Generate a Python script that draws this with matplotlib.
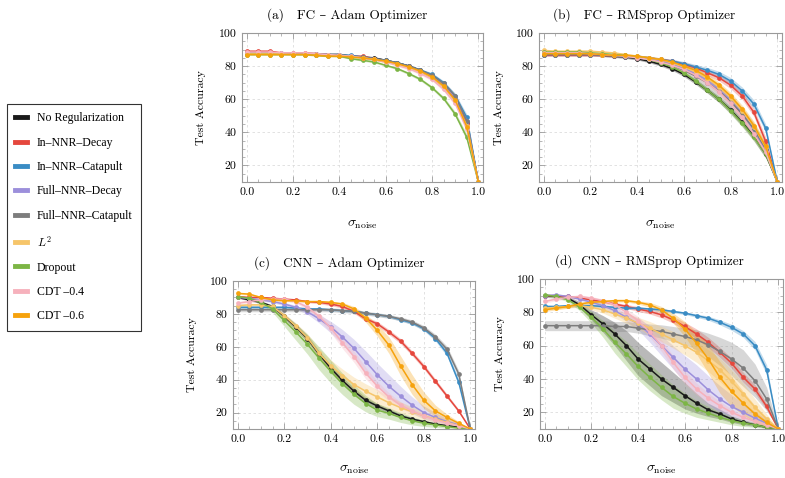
import matplotlib
matplotlib.use('Agg')
import matplotlib.pyplot as plt
from matplotlib.ticker import MultipleLocator
from matplotlib.lines import Line2D
import numpy as np

plt.rcParams['font.family'] = ['cmr10', 'DejaVu Serif']
plt.rcParams['mathtext.fontset'] = 'cm'
plt.rcParams['axes.formatter.use_mathtext'] = True
plt.rcParams['axes.unicode_minus'] = False

# ---------------- data ----------------
x = [0.0, 0.05, 0.1, 0.15, 0.2, 0.25, 0.3, 0.35, 0.4, 0.45, 0.5,
     0.55, 0.6, 0.65, 0.7, 0.75, 0.8, 0.85, 0.9, 0.95, 1.0]

labels = ["No Regularization", "In–NNR–Decay", "In–NNR–Catapult", "Full–NNR–Decay",
          "Full–NNR–Catapult", r"$L^2$", "Dropout", "CDT –0.4", "CDT –0.6"]
colors = ["#1a1a1a", "#e5473d", "#3a8cc4", "#9c8fdb", "#7d7d7d",
          "#f6c56a", "#7cb545", "#f6b1bc", "#f6a20c"]

titles = ["(a)   FC – Adam Optimizer", "(b)   FC – RMSprop Optimizer",
          "(c)   CNN – Adam Optimizer", "(d)  CNN – RMSprop Optimizer"]

# (a) FC - Adam
a_noreg      = [88, 88, 88, 87.5, 87.5, 87.5, 87.5, 87, 87, 86, 85.5, 85, 83.5, 82, 80, 77.5, 74, 69, 61, 46, 10]
a_innr_decay = [89, 89, 89, 88, 88, 88, 87.5, 87, 86.5, 86, 86, 84.5, 83, 81.5, 80, 77, 73, 68, 60, 45, 10]
a_innr_cat   = [88, 88, 88, 87.5, 87.5, 87.5, 87, 87, 87, 86.5, 85.5, 84.5, 83.5, 82, 80, 77.5, 75, 70, 62, 49, 10]
a_full_decay = [88, 88, 88, 88, 87.5, 87.5, 87, 87, 86.5, 86, 85, 84, 83, 81.5, 79.5, 77, 74, 69, 61, 47, 10]
a_full_cat   = [88, 88, 88, 87.5, 87.5, 87.5, 87.5, 87, 87, 86, 85.5, 84.5, 83.5, 82, 80, 77.5, 74.5, 69.5, 62, 47, 10]
a_l2         = [87.5, 87.5, 87.5, 87.5, 87, 87, 86.5, 86.5, 86, 85.5, 85, 84, 82.5, 81, 79, 76.5, 73, 67.5, 59, 44, 10]
a_dropout    = [87, 87, 87, 87, 87, 87, 86.5, 86, 86, 84.5, 83.5, 82.5, 80.5, 78.5, 75.5, 72, 67, 60.5, 51, 37, 10]
a_cdt4       = [88.5, 88.5, 88.5, 88, 88, 88, 87.5, 87, 86.5, 86, 85, 84, 82.5, 80.5, 78.5, 75.5, 72, 66, 57.5, 42, 10]
a_cdt6       = [87, 87, 87, 87, 87, 87, 86.5, 86, 86, 85.5, 85, 84, 83, 81.5, 79.5, 77, 73.5, 68, 59.5, 43.5, 10]
a_sd         = [0.4, 0.4, 0.4, 0.4, 0.4, 0.4, 0.4, 0.4, 0.5, 0.5, 0.5, 0.6, 0.6, 0.7, 0.8, 0.9, 1.0, 1.2, 1.5, 2.0, 0]

# (b) FC - RMSprop
b_noreg      = [87, 87, 87, 87, 87, 86.5, 86, 85.5, 84.5, 83, 81, 78.5, 75, 70.5, 65.5, 60, 53.5, 46, 37.5, 27, 10]
b_innr_decay = [86.5, 86.5, 86.5, 86.5, 86.5, 86.5, 86, 86, 85.5, 85, 84, 83, 81, 79, 76, 73, 68.5, 62, 52, 34.5, 10]
b_innr_cat   = [87, 87, 87, 87, 87, 87, 86.5, 86, 86, 85, 84, 83, 81.5, 79.5, 77.5, 75, 71, 65, 57, 42.5, 10]
b_full_decay = [88, 88, 88, 88, 87.5, 87, 86.5, 86, 85.5, 84.5, 83, 81, 78.5, 75.5, 71.5, 66, 59.5, 51.5, 41.5, 29, 10]
b_full_cat   = [87, 87, 87, 87, 87, 86.5, 86, 85.5, 85, 84, 82.5, 80.5, 77.5, 74, 70, 65, 58.5, 51, 42, 30, 10]
b_l2         = [89.5, 89, 89, 89, 89, 88.5, 88, 87, 86, 85, 84, 82, 79.5, 76.5, 72.5, 67.5, 61, 53, 43.5, 31, 10]
b_dropout    = [88.5, 88.5, 88.5, 88.5, 88, 87.5, 87, 86.5, 85.5, 84, 82, 79.5, 76, 71, 65.5, 60, 53, 45.5, 37, 27, 10]
b_cdt4       = [88, 88, 88, 88, 87.5, 87, 86.5, 86, 85, 84, 82.5, 80.5, 78, 74.5, 70, 64.5, 57.5, 49, 39, 28, 10]
b_cdt6       = [87.5, 87.5, 87.5, 87.5, 87.5, 87, 86.5, 86.5, 86, 85, 84, 82.5, 80, 77.5, 73.5, 68.5, 62, 54, 44, 31.5, 10]
b_sd         = [0.6, 0.6, 0.6, 0.6, 0.6, 0.6, 0.6, 0.7, 0.8, 0.9, 1.0, 1.1, 1.3, 1.5, 1.7, 1.9, 2.1, 2.3, 2.5, 2.5, 0]
b_sd_gray    = [0.8, 0.8, 0.8, 0.8, 0.8, 0.8, 0.9, 1.0, 1.2, 1.4, 1.6, 1.9, 2.2, 2.5, 2.8, 3.0, 3.2, 3.3, 3.3, 3.0, 0]

# (c) CNN - Adam
c_noreg      = [90, 88.5, 87, 84.5, 78.5, 72, 65, 55.5, 47, 39.5, 33, 27.5, 24, 21, 18, 16, 14.5, 13, 12, 11, 10]
c_innr_decay = [90.5, 90, 90, 89.5, 89, 88.5, 87.5, 87, 86, 84.5, 81.5, 77, 74, 69, 63.5, 56, 48, 39, 30, 21, 10]
c_innr_cat   = [84, 84, 84, 84, 84, 83.5, 83, 83, 82.5, 82, 81.5, 80.5, 79.5, 78.5, 76.5, 74.5, 71, 65, 56, 38.5, 10]
c_full_decay = [90, 89.5, 88.5, 87.5, 86, 84, 81.3, 77, 72, 66, 59, 51, 43, 36, 30, 24.5, 20, 17, 14.5, 12.5, 10]
c_full_cat   = [82.5, 82.5, 82.5, 82.5, 82.5, 82.5, 82.5, 82.5, 82.5, 82, 81.5, 80.5, 79.5, 78.5, 77, 75, 71.5, 66, 58.5, 43.5, 10]
c_l2         = [85, 85.5, 85.5, 84.5, 79, 72.5, 65.5, 56, 48.5, 42.5, 37, 33, 29.5, 26, 23, 20.5, 18, 16, 14, 12, 10]
c_dropout    = [90.5, 89.5, 87, 83, 76, 69, 61.5, 53, 45, 37.5, 31, 25.5, 21.5, 19.5, 17, 15, 13.5, 12.5, 11.5, 10.5, 10]
c_cdt4       = [86.5, 87.5, 88.5, 89, 89, 87.5, 84, 78.5, 71.5, 62.5, 54, 44, 36, 29.5, 24.5, 21, 18, 15.5, 13.5, 12, 10]
c_cdt6       = [92.5, 92, 90, 88.5, 88, 88, 87.5, 87.5, 87, 86, 83, 77.5, 70, 61, 48.5, 37, 27.5, 21, 17, 13.5, 10]
c_noreg_sd      = [0.5, 0.5, 0.8, 1, 1.5, 2, 2, 2, 2, 2, 2, 1.8, 1.5, 1.3, 1.2, 1, 0.8, 0.6, 0.5, 0.4, 0]
c_innr_decay_sd = [0.5, 0.5, 0.5, 0.5, 0.5, 0.6, 0.7, 0.8, 1, 1, 1.2, 1.3, 1.4, 1.5, 1.5, 1.5, 1.5, 1.4, 1.2, 1, 0]
c_innr_cat_sd   = [0.8, 0.8, 0.8, 0.8, 0.8, 0.8, 0.8, 0.8, 0.8, 0.8, 0.8, 0.8, 0.8, 0.8, 0.9, 1, 1.2, 1.5, 1.8, 2, 0]
c_full_decay_sd = [0.5, 0.5, 0.6, 0.8, 1, 1.2, 1.5, 2.5, 3.5, 4.5, 5.5, 6.5, 7, 7, 6, 5, 4, 3, 2, 1, 0]
c_full_cat_sd   = [1.2, 1.2, 1.2, 1.2, 1.2, 1.2, 1.2, 1.2, 1.2, 1.2, 1.2, 1.2, 1.2, 1.2, 1.2, 1.3, 1.4, 1.6, 1.8, 2, 0]
c_l2_sd         = [0.8, 0.8, 0.8, 1, 1.5, 2, 2.5, 3, 3.5, 4, 4.5, 4.5, 4.5, 4, 3.5, 3, 2.5, 2, 1.5, 1, 0]
c_dropout_sd    = [0.6, 0.8, 1.2, 2, 3.5, 5, 6, 7, 7, 6.5, 6, 5, 4, 3.5, 3, 2.5, 2, 1.5, 1, 0.5, 0]
c_cdt4_sd       = [1, 1, 1, 1, 1, 1, 1.5, 2, 3, 3.5, 3.5, 3.5, 3, 2.5, 2, 1.5, 1.2, 1, 0.8, 0.5, 0]
c_cdt6_sd       = [0.6, 0.6, 0.6, 0.6, 0.6, 0.6, 0.6, 0.6, 0.8, 1, 1.5, 2.5, 3.5, 5, 6, 6, 5, 3.5, 2, 1, 0]

# (d) CNN - RMSprop
d_noreg      = [90, 89.5, 88.5, 84.5, 78.5, 73, 67, 60, 52, 46, 40, 35, 30, 25.5, 21.5, 19, 16, 14, 12.5, 11, 10]
d_innr_decay = [90, 90, 89.5, 88.5, 87.5, 86.5, 85, 83.5, 82, 80.5, 78.5, 75.5, 71.5, 67, 62, 56, 49.5, 41, 34, 23.5, 10]
d_innr_cat   = [83.5, 83.5, 84, 84, 84, 83.5, 83, 82.5, 82.5, 82, 81.5, 80.5, 79.5, 78, 76.5, 74, 71, 67, 60, 45.5, 10]
d_full_decay = [90, 90.5, 89.5, 88, 86, 84, 81, 77, 73, 67, 60, 53, 46, 40, 33.5, 28, 23.5, 20, 16.5, 13.5, 10]
d_full_cat   = [72, 72, 72, 72, 72, 72, 71.5, 71.5, 70.5, 69.5, 68.5, 67, 65.5, 63.5, 60.5, 56.5, 52, 46.5, 39, 28, 10]
d_l2         = [82.5, 83, 83.5, 84, 83, 81.5, 79, 76.5, 73.5, 70.5, 67, 63.5, 60, 56, 51, 45.5, 38.5, 31, 23, 16, 10]
d_dropout    = [90.5, 89.5, 87.5, 83, 77, 70, 62, 55, 47.5, 41, 35, 29.5, 25.5, 22, 19.5, 17, 15, 13.5, 12.5, 11, 10]
d_cdt4       = [86.5, 88, 89, 89.5, 88.5, 87, 84.5, 80, 75, 68, 60, 50, 41, 34, 28.5, 24, 20, 17, 14.5, 12.5, 10]
d_cdt6       = [81.5, 82.5, 83.5, 85, 86, 86.5, 87, 87, 86, 84.5, 81.5, 76.5, 70, 61.5, 52, 41, 32.5, 25.5, 19, 14, 10]
d_noreg_sd      = [1, 1, 1, 2, 3, 5, 7, 9, 10, 10, 10, 9, 8, 6, 4, 3, 2, 1.5, 1, 0.5, 0]
d_innr_decay_sd = [0.5, 0.5, 0.5, 0.6, 0.8, 1, 1, 1.2, 1.5, 1.5, 1.8, 2, 2.5, 3, 3, 3, 3, 3, 2.5, 2, 0]
d_innr_cat_sd   = [0.8, 0.8, 0.8, 0.8, 0.8, 0.8, 0.8, 0.8, 0.8, 0.8, 0.8, 0.8, 0.8, 1, 1.2, 1.5, 1.8, 2, 2.5, 3, 0]
d_full_decay_sd = [0.5, 0.5, 0.5, 0.8, 1, 1.5, 2, 2.5, 3.5, 5, 6, 7, 8, 8.5, 8.5, 8, 7, 5.5, 4, 2, 0]
d_full_cat_sd   = [3, 3, 3, 3, 3, 3, 3, 3, 3, 3.5, 4, 4.5, 5, 6, 7, 8.5, 10, 11, 10, 7, 0]
d_l2_sd         = [1, 1, 1, 1, 1.5, 2, 2.5, 3, 3.5, 4, 4.5, 5, 5.5, 6, 6.5, 7, 7, 6.5, 5, 3, 0]
d_dropout_sd    = [0.6, 0.8, 1.2, 2, 3.5, 5, 6.5, 7.5, 8, 8, 7.5, 7, 6, 5, 4, 3, 2.5, 2, 1.5, 0.8, 0]
d_cdt4_sd       = [1, 1, 1, 1, 1, 1, 1.5, 2, 2.5, 3, 3.5, 4, 4, 3.5, 3, 2.5, 2, 1.5, 1, 0.5, 0]
d_cdt6_sd       = [1, 1, 1, 1, 1, 1, 0.8, 0.8, 1, 1.5, 2, 3, 4.5, 6.5, 8.5, 9.5, 9, 7, 5, 3, 0]

panels = [
    ([a_noreg, a_innr_decay, a_innr_cat, a_full_decay, a_full_cat, a_l2, a_dropout, a_cdt4, a_cdt6],
     [a_sd, a_sd, a_sd, a_sd, a_sd, a_sd, a_sd, a_sd, a_sd]),
    ([b_noreg, b_innr_decay, b_innr_cat, b_full_decay, b_full_cat, b_l2, b_dropout, b_cdt4, b_cdt6],
     [b_sd, b_sd, b_sd, b_sd, b_sd_gray, b_sd, b_sd, b_sd, b_sd]),
    ([c_noreg, c_innr_decay, c_innr_cat, c_full_decay, c_full_cat, c_l2, c_dropout, c_cdt4, c_cdt6],
     [c_noreg_sd, c_innr_decay_sd, c_innr_cat_sd, c_full_decay_sd, c_full_cat_sd, c_l2_sd,
      c_dropout_sd, c_cdt4_sd, c_cdt6_sd]),
    ([d_noreg, d_innr_decay, d_innr_cat, d_full_decay, d_full_cat, d_l2, d_dropout, d_cdt4, d_cdt6],
     [d_noreg_sd, d_innr_decay_sd, d_innr_cat_sd, d_full_decay_sd, d_full_cat_sd, d_l2_sd,
      d_dropout_sd, d_cdt4_sd, d_cdt6_sd]),
]

# ---------------- layout ----------------
W, H = 785, 478
rects_px = [(242, 33, 483, 182), (539, 33, 782, 182), (233, 281, 475, 429), (540, 279, 783, 429)]
title_x = [0.436, 0.432, 0.438, 0.449]
ylab_x = [-0.149, -0.144, -0.149, -0.144]
xlab_y = [-0.289, -0.289, -0.277, -0.273]

fig = plt.figure(figsize=(W / 100, H / 100), dpi=100)
frame_col = "#9a9a9a"
xs = np.array(x)

for i, (means, sds) in enumerate(panels):
    l, t, r, b = rects_px[i]
    ax = fig.add_axes([l / W, 1 - b / H, (r - l) / W, (b - t) / H])
    for m, s, c in zip(means, sds, colors):
        m = np.array(m, float)
        s = np.array(s, float)
        ax.fill_between(xs, m - s, m + s, color=c, alpha=0.3, lw=0)
    for m, c in zip(means, colors):
        ax.plot(xs, m, color=c, lw=1.1, marker='o', ms=3.4, mew=0)
    ax.set_xlim(-0.02, 1.02)
    ax.set_ylim(10, 100)
    ax.xaxis.set_major_locator(MultipleLocator(0.2))
    ax.xaxis.set_minor_locator(MultipleLocator(0.05))
    ax.yaxis.set_major_locator(MultipleLocator(20))
    ax.yaxis.set_minor_locator(MultipleLocator(5))
    ax.set_yticks([20, 40, 60, 80, 100])
    ax.tick_params(which='both', direction='in', top=True, right=True, color=frame_col,
                   labelsize=8.5, pad=4)
    ax.tick_params(which='major', length=4, width=0.6)
    ax.tick_params(which='minor', length=2, width=0.5)
    ax.xaxis.set_major_formatter(matplotlib.ticker.FuncFormatter(lambda v, p: f"{v:.1f}"))
    ax.yaxis.set_major_formatter(matplotlib.ticker.FuncFormatter(lambda v, p: f"{v:.0f}"))
    for sp in ax.spines.values():
        sp.set_color(frame_col)
        sp.set_linewidth(0.8)
    ax.grid(True, which='major', ls=(0, (3, 3)), color='#dddddd', lw=0.6)
    ax.set_axisbelow(True)
    ax.set_ylabel("Test Accuracy", fontsize=8.5)
    ax.yaxis.set_label_coords(ylab_x[i], 0.5)
    ax.set_xlabel(r"$\sigma_{\rm noise}$", fontsize=10, va='center')
    ax.xaxis.set_label_coords(0.5, xlab_y[i])
    ax.text(title_x[i], 1.12, titles[i], transform=ax.transAxes, ha='center', va='center',
            fontsize=9.5)

handles = [Line2D([0], [0], color=c, lw=3.5) for c in colors]
leg = fig.legend(handles, labels, loc='upper left', bbox_to_anchor=(7 / W, 1 - 104 / H),
                 bbox_transform=fig.transFigure, frameon=True, fancybox=False,
                 edgecolor='black', prop={'family': 'Liberation Serif', 'size': 8.5},
                 handlelength=1.0, handletextpad=0.8, labelspacing=1.05, borderpad=0.7,
                 borderaxespad=0)
leg.get_frame().set_linewidth(0.8)

fig.savefig("out.png", dpi=100)
